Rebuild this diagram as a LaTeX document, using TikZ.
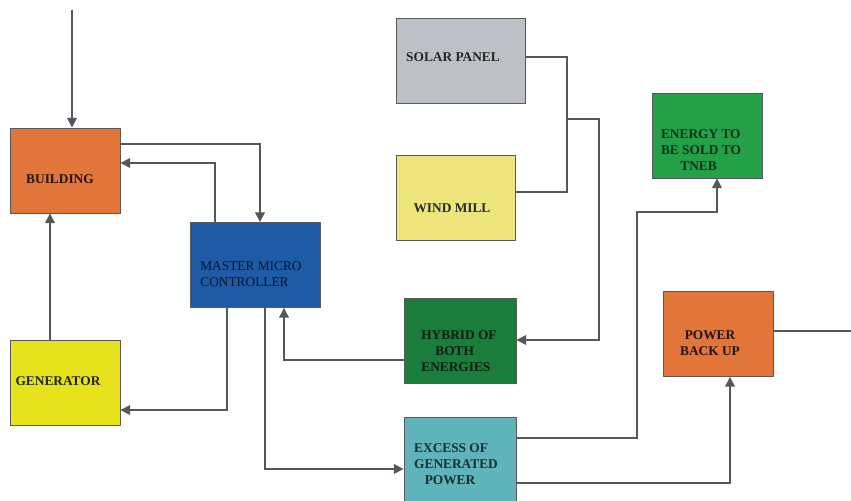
\documentclass[tikz,border=0pt]{standalone}
\usepackage{fontspec}
\setmainfont{Liberation Serif}
\usetikzlibrary{arrows.meta}

\definecolor{wirecol}{HTML}{55575E}
\definecolor{edgecol}{HTML}{5A5A5A}
\definecolor{orangebox}{HTML}{E2763A}
\definecolor{yellowbox}{HTML}{E6E21C}
\definecolor{bluebox}{HTML}{1E5AA5}
\definecolor{greybox}{HTML}{BEC0C8}
\definecolor{paleyellow}{HTML}{EDE57C}
\definecolor{darkgreen}{HTML}{1B7D3B}
\definecolor{midgreen}{HTML}{23A048}
\definecolor{tealbox}{HTML}{5EB4BA}

\tikzset{
  blk/.style={draw=edgecol, line width=0.5pt, inner sep=0pt,
    minimum width=2.2cm, minimum height=1.7cm},
  lbl/.style={font=\fontsize{7.6}{9}\selectfont\bfseries, inner sep=0pt},
  wire/.style={draw=wirecol, line width=0.75pt},
}

\begin{document}
\begin{tikzpicture}[x=0.02cm, y=-0.02cm,
  >={Triangle[length=5.5pt,width=5.5pt]}]
  \useasboundingbox (0,0) rectangle (851,500);

  % boxes
  \node[blk, fill=orangebox] (bldg) at (65,170.5) {};
  \node[blk, fill=yellowbox] (gen) at (65,382.5) {};
  \node[blk, fill=bluebox, minimum width=2.6cm] (mcu) at (255,265) {};
  \node[blk, fill=greybox, minimum width=2.58cm] (solar) at (460.5,60.5) {};
  \node[blk, fill=paleyellow, minimum width=2.38cm] (wind) at (455.5,198) {};
  \node[blk, fill=darkgreen, minimum width=2.24cm] (hyb) at (460,340.5) {};
  \node[blk, fill=tealbox, minimum width=2.24cm] (exc) at (460,460) {};
  \node[blk, fill=midgreen] (sold) at (707,135.5) {};
  \node[blk, fill=orangebox] (backup) at (718,334) {};

  % labels
  \node[lbl, text=black!85!orangebox] (bldg-l) at (60,179) {BUILDING};
  \node[lbl, text=black!85!yellowbox] (gen-l) at (58,381) {GENERATOR};
  \node[lbl, font=\fontsize{7.6}{9.5}\selectfont, text=black!75!bluebox,
    align=left] (mcu-l) at (251,274) {MASTER MICRO\\CONTROLLER};
  \node[lbl, text=black!85] (solar-l) at (453,57) {SOLAR PANEL};
  \node[lbl, text=black!85] (wind-l) at (452,208) {WIND MILL};
  \node[lbl, text=black!75!darkgreen, align=left] (hyb-l) at (459,351)
    {HYBRID OF\\\hspace{8pt}BOTH\\ENERGIES};
  \node[lbl, text=black!75!tealbox, align=left] (exc-l) at (456,464)
    {EXCESS OF\\GENERATED\\\hspace{6pt}POWER};
  \node[lbl, text=black!70!midgreen, align=left] (sold-l) at (701,150)
    {ENERGY TO\\BE SOLD TO\\\hspace{11pt}TNEB};
  \node[lbl, text=black!85!orangebox] (backup-l) at (710,344)
    {\begin{tabular}{@{}c@{}}POWER\\BACK UP\end{tabular}};

  % connectors
  \coordinate (in) at (72,10);
  \coordinate (out) at (851,331);
  \coordinate (j) at (567,119);
  \coordinate (k) at (599,340);
  \draw[wire,->] (in) -- (bldg.north -| in);
  \draw[wire,->] (bldg.east |- 0,144) -| (mcu.north -| 260,0);
  \draw[wire,->] (mcu.north -| 215,0) |- (bldg.east |- 0,163);
  \draw[wire,->] (gen.north -| 50,0) -- (bldg.south -| 50,0);
  \draw[wire,->] (mcu.south -| 227,0) |- (gen.east |- 0,410);
  \draw[wire,->] (mcu.south -| 265,0) |- (exc.west |- 0,469);
  \draw[wire,->] (hyb.west |- 0,360) -| (mcu.south -| 284,0);
  \draw[wire] (solar.east |- 0,57) -| (j) |- (wind.east |- 0,192);
  \draw[wire,->] (j) -| (k) -- (hyb.east |- k);
  \draw[wire,->] (exc.east |- 0,438) -| (637,212) -| (sold.south -| 717,0);
  \draw[wire,->] (exc.east |- 0,483) -| (backup.south -| 730,0);
  \draw[wire] (backup.east |- out) -- (out);
\end{tikzpicture}
\end{document}
